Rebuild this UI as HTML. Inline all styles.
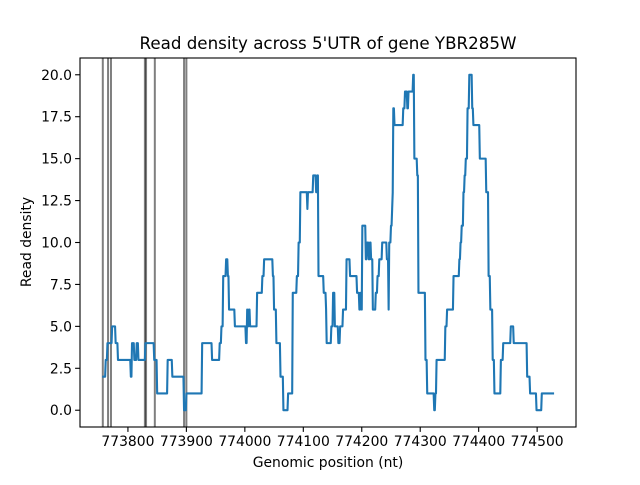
<!DOCTYPE html>
<html><head><meta charset="utf-8"><style>
body{margin:0;background:#fff}
svg{font-family:"DejaVu Sans","Liberation Sans",sans-serif}
</style></head><body>
<svg id="chart" width="640" height="480" xmlns="http://www.w3.org/2000/svg">
<rect width="640" height="480" fill="#fff"/>
<g id="vlines"></g>
<g id="plot"></g>
<rect x="80" y="58" width="496" height="369" fill="none" stroke="#000" stroke-width="1.1"/>
<g id="xt" font-size="13.9"></g>
<g id="yt" font-size="13.9"></g>
<text x="328" y="49" font-size="16.7" text-anchor="middle">Read density across 5'UTR of gene YBR285W</text>
<text x="328" y="467" font-size="13.9" text-anchor="middle">Genomic position (nt)</text>
<text transform="translate(31,242) rotate(-90)" font-size="13.9" text-anchor="middle">Read density</text>
</svg>
<script>
const stepPositions=[773756,773762,773765,773773,773779,773783,773805,773807,773811,773815,773818,773830,773845,773850,773868,773876,773896,773900,773927,773944,773957,773960,773963,773968,773971,773973,773983,774002,774004,774005,774007,774009,774021,774030,774033,774048,774050,774054,774061,774066,774074,774082,774089,774092,774095,774107,774108,774117,774122,774124,774126,774135,774139,774140,774148,774151,774154,774160,774163,774168,774174,774180,774192,774196,774198,774200,774201,774207,774209,774212,774214,774216,774219,774224,774227,774230,774235,774243,774246,774247,774250,774252,774253,774254,774256,774271,774274,774278,774280,774288,774290,774295,774297,774309,774312,774324,774326,774328,774343,774346,774357,774367,774369,774371,774374,774376,774378,774381,774384,774389,774391,774402,774413,774417,774420,774424,774427,774438,774442,774455,774460,774483,774488,774499,774508,774529];
const densityValues=[2,3,4,5,4,3,2,4,3,4,3,4,3,1,3,2,0,1,4,3,4,5,8,9,8,6,5,4,6,5,6,5,7,8,9,8,6,4,2,0,1,7,8,10,13,12,13,14,13,14,8,7,6,4,5,7,5,4,5,6,9,8,7,6,7,6,11,9,10,9,10,9,6,7,8,9,10,9,6,10,11,12,13,18,17,18,19,18,19,20,15,14,7,3,1,0,1,3,5,6,8,9,10,11,13,14,15,18,20,18,17,15,13,8,6,3,1,3,4,5,4,2,1,0,1,1];
const markerPositions=[773757,773766,773771,773829,773831,773846,773896,773900];
const xTicks=[773800,773900,774000,774100,774200,774300,774400,774500];
const yTicks=[0,2.5,5,7.5,10,12.5,15,17.5,20];
const NS="http://www.w3.org/2000/svg";
const X0=773718,X1=774566.5,Y0=-1,Y1=21,L=80,R=576,T=58,B=427;
const sx=v=>L+(v-X0)/(X1-X0)*(R-L);
const sy=v=>B-(v-Y0)/(Y1-Y0)*(B-T);
function mk(t,a,p){const e=document.createElementNS(NS,t);for(const k in a)e.setAttribute(k,a[k]);p.appendChild(e);return e;}
const vl=document.getElementById('vlines');
markerPositions.forEach(p=>{const l=mk('line',{x1:sx(p),x2:sx(p),y1:T,y2:B,stroke:'#000','stroke-opacity':0.5,'stroke-width':2},vl);

});
let d='';
for(let i=0;i<stepPositions.length;i++){
  const x=sx(stepPositions[i]),y=sy(densityValues[i]);
  if(i===0)d+='M'+x+' '+y;else{d+='L'+(x-0.6)+' '+sy(densityValues[i-1])+'L'+x+' '+y;}
}
const path=mk('path',{d:d,fill:'none',stroke:'#1f77b4','stroke-width':2.1,'stroke-linejoin':'round'},document.getElementById('plot'));


const xt=document.getElementById('xt');
xTicks.forEach(v=>{const x=sx(v);mk('line',{x1:x,x2:x,y1:B,y2:B+4.9,stroke:'#000','stroke-width':1.1},xt);
const t=mk('text',{x:x,y:B+19,'text-anchor':'middle'},xt);t.textContent=v;

});
const yt=document.getElementById('yt');
yTicks.forEach(v=>{const y=sy(v);mk('line',{x1:L-4.9,x2:L,y1:y,y2:y,stroke:'#000','stroke-width':1.1},yt);
const t=mk('text',{x:L-8,y:y+5,'text-anchor':'end'},yt);t.textContent=v.toFixed(1);

});
</script>
</body></html>
